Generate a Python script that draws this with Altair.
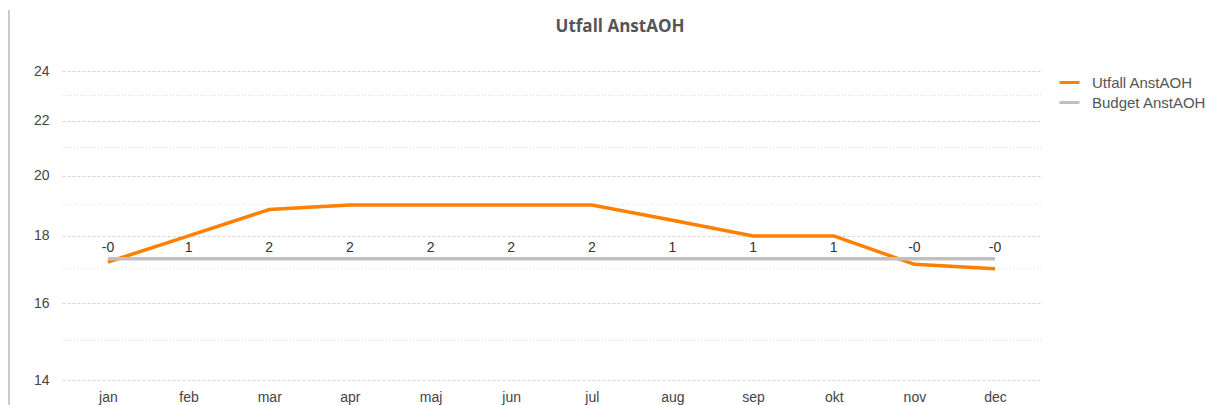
import altair as alt
import pandas as pd

chart_title = "Utfall AnstAOH"
months = ["jan", "feb", "mar", "apr", "maj", "jun", "jul", "aug", "sep", "okt", "nov", "dec"]
utfall = [17.2, 18.0, 18.85, 19.0, 19.0, 19.0, 19.0, 18.5, 18.0, 18.0, 17.13, 17.0]
budget = [17.3] * 12
diff_labels = ["-0", "1", "2", "2", "2", "2", "2", "1", "1", "1", "-0", "-0"]
major_ticks = [14, 16, 18, 20, 22, 24]
minor_ticks = [15, 17, 19, 21, 23]
series_names = ["Utfall AnstAOH", "Budget AnstAOH"]
series_colors = ["#FF8000", "#C0C0C0"]

W, H = 979, 309
FONT = "Liberation Sans"

rows = []
for m, u, b in zip(months, utfall, budget):
    rows.append({"month": m, "value": u, "series": series_names[0]})
    rows.append({"month": m, "value": b, "series": series_names[1]})
df = pd.DataFrame(rows)
lab = pd.DataFrame({"month": months, "value": budget, "label": diff_labels})
minor = pd.DataFrame({"value": minor_ticks})
tdf = pd.DataFrame({"t": [chart_title]})

xs = alt.X("month:N", sort=months, scale=alt.Scale(type="point", padding=0.57),
           axis=alt.Axis(title=None, labelAngle=0, ticks=False, domain=False, grid=False,
                         labelPadding=10, labelFontSize=14, labelColor="#444",
                         labelFont=FONT))
yscale = alt.Scale(type="log", domain=[14, 24], nice=False)
yaxis = alt.Axis(title=None, values=major_ticks, ticks=False, domain=False,
                 grid=True, gridColor="#d4d4d4", gridDash=[3, 2], labelPadding=13,
                 labelFontSize=14, labelColor="#444", labelFont=FONT)

minor_rules = alt.Chart(minor).mark_rule(color="#dddddd", strokeWidth=1, strokeDash=[1, 2]).encode(
    y=alt.Y("value:Q", scale=yscale, axis=yaxis),
    x=alt.value(0), x2=alt.value(W),
)

lines = alt.Chart(df).mark_line(strokeWidth=3.5).encode(
    x=xs,
    y=alt.Y("value:Q", scale=yscale, axis=yaxis),
    color=alt.Color("series:N", sort=series_names,
                    scale=alt.Scale(domain=series_names, range=series_colors),
                    legend=alt.Legend(title=None, orient="none", legendX=996, legendY=0,
                                      symbolType="stroke", symbolSize=400, symbolStrokeWidth=3,
                                      rowPadding=-2, labelFontSize=15, labelColor="#555",
                                      labelFont=FONT, labelOffset=11)),
    order=alt.Order("series:N", sort="ascending"),
)

texts = alt.Chart(lab).mark_text(dy=-11, fontSize=14, color="#333", font=FONT).encode(
    x=xs,
    y=alt.Y("value:Q", scale=yscale, axis=yaxis),
    text="label:N",
)

title_mark = alt.Chart(tdf).mark_text(fontSize=17, fontWeight="bold", color="#555",
                                      font="Open Sans", align="center", baseline="middle").encode(
    x=alt.value(558), y=alt.value(-44), text="t:N"
)

border = alt.Chart(tdf).mark_rule(color="#cccccc", strokeWidth=2).encode(
    x=alt.value(-53), y=alt.value(-61), y2=alt.value(345)
)

chart = alt.layer(minor_rules, lines, texts, title_mark, border).properties(
    width=W, height=H,
    autosize=alt.AutoSizeParams(type="none"),
    padding={"left": 54, "top": 63, "right": 165, "bottom": 25},
).configure_view(stroke=None)

chart.save("out.html", embed_options={"renderer": "svg", "actions": False})
